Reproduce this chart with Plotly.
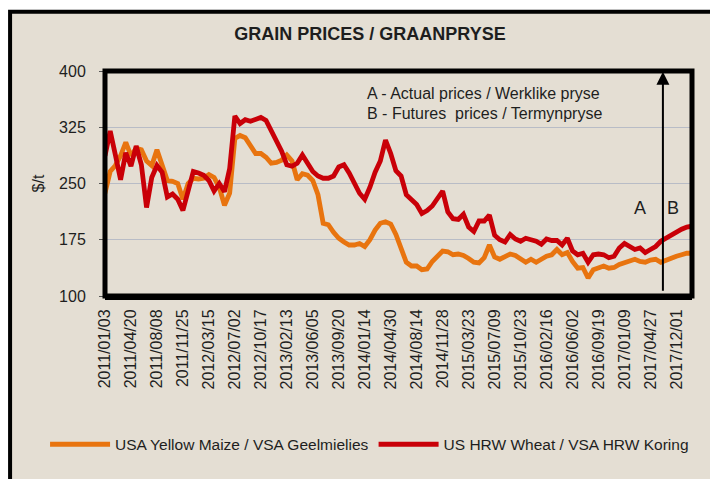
import plotly.graph_objects as go

# ---------------- data ----------------
date_labels = ["2011/01/03", "2011/04/20", "2011/08/08", "2011/11/25", "2012/03/15",
               "2012/07/02", "2012/10/17", "2013/02/13", "2013/06/05", "2013/09/20",
               "2014/01/14", "2014/04/30", "2014/08/14", "2014/11/28", "2015/03/23",
               "2015/07/09", "2015/10/23", "2016/02/16", "2016/06/02", "2016/09/19",
               "2017/01/09", "2017/04/27", "2017/12/01"]
points_per_label = 5  # observations between two consecutive date labels

maize = [237, 266, 274, 287, 305, 287, 297, 295, 280, 274,
         295, 276, 254, 253, 250, 229, 250, 257, 256, 257,
         262, 258, 245, 221, 237, 310, 314, 311, 299, 290,
         290, 285, 277, 278, 281, 288, 280, 255, 263, 261,
         254, 235, 197, 195, 185, 177, 172, 168, 168, 170,
         166, 175, 188, 197, 199, 196, 182, 164, 145, 140,
         140, 135, 136, 146, 153, 160, 159, 155, 156, 154,
         150, 145, 144, 151, 168, 152, 149, 152, 156, 154,
         150, 145, 149, 145, 149, 153, 155, 162, 155, 158,
         146, 137, 138, 124, 135, 137, 140, 137, 138, 142,
         144, 147, 149, 146, 145, 148, 149, 145, 148, 151,
         153, 155, 157, 157]

wheat = [287, 320, 288, 255, 291, 273, 300, 275, 218, 258,
         274, 265, 232, 236, 229, 214, 240, 266, 264, 261,
         254, 240, 250, 239, 270, 340, 330, 335, 333, 335,
         338, 334, 320, 306, 293, 275, 273, 277, 288, 277,
         266, 260, 257, 257, 260, 272, 275, 264, 249, 237,
         229, 245, 265, 280, 308, 290, 267, 260, 235, 228,
         222, 210, 214, 220, 230, 240, 212, 203, 202, 209,
         192, 186, 200, 200, 208, 181, 175, 172, 182, 176,
         173, 177, 175, 173, 169, 176, 174, 174, 168, 177,
         160, 155, 157, 145, 155, 156, 155, 151, 153, 164,
         170, 166, 162, 164, 158, 162, 166, 173, 177, 182,
         185, 189, 192, 193]

y_ticks = [100, 175, 250, 325, 400]
series_names = ["USA Yellow Maize / VSA Geelmielies", "US HRW Wheat / VSA HRW Koring"]
title_text = "GRAIN PRICES / GRAANPRYSE"
note_lines = ["A - Actual prices / Werklike pryse", "B - Futures  prices / Termynpryse"]
split_position = 21.48  # boundary between actual and futures prices (in label units)

# ---------------- figure ----------------
FONT = "Liberation Sans, Arial, sans-serif"
TXT = "#1e1e1e"
BG = "#E4DED3"

x_maize = [i / points_per_label for i in range(len(maize))]
x_wheat = [i / points_per_label for i in range(len(wheat))]

fig = go.Figure()
fig.add_trace(go.Scatter(x=x_maize, y=maize, mode="lines", name=series_names[0],
                         line=dict(color="#E8740F", width=4.8)))
fig.add_trace(go.Scatter(x=x_wheat, y=wheat, mode="lines", name=series_names[1],
                         line=dict(color="#C90008", width=4.8)))

# the page body has an 8px margin; size the figure so it fills the window
OFF = 8
W, H = 718 - OFF, 479 - OFF
L = 105 - OFF
T = 70.5 - OFF
plot_bottom = 296 - OFF
plot_right = 692.5 - OFF
R = W - plot_right
B = H - plot_bottom
pw = W - L - R
ph = H - T - B


def px2paper_x(px):
    return (px - OFF - L) / pw


def px2paper_y(py):
    return (H - B - (py - OFF)) / ph


shapes = [
    # outer beige panel with black frame (cropped on the right/bottom)
    dict(type="rect", xref="paper", yref="paper",
         x0=px2paper_x(10), x1=px2paper_x(740), y0=px2paper_y(500), y1=px2paper_y(11),
         line=dict(color="black", width=4), fillcolor=BG, layer="below"),
    # plot area frame
    dict(type="rect", xref="paper", yref="paper", x0=0, x1=1, y0=0, y1=1,
         line=dict(color="black", width=5), layer="above"),
    dict(type="line", xref="paper", yref="paper", x0=0, x1=1,
         y0=px2paper_y(298.5), y1=px2paper_y(298.5),
         line=dict(color="black", width=3), layer="above"),
]

annotations = [
    dict(x=split_position, y=399, xref="x", yref="y", ax=split_position, ay=105,
         axref="x", ayref="y", showarrow=True, arrowhead=2, arrowsize=1.3,
         arrowwidth=2, arrowcolor="black", text=""),
    dict(x=px2paper_x(365), y=px2paper_y(93), xref="paper", yref="paper",
         xanchor="left", yanchor="middle", showarrow=False, text=note_lines[0],
         font=dict(size=16, color=TXT, family=FONT)),
    dict(x=px2paper_x(365), y=px2paper_y(113), xref="paper", yref="paper",
         xanchor="left", yanchor="middle", showarrow=False, text=note_lines[1],
         font=dict(size=16, color=TXT, family=FONT)),
    dict(x=20.6, y=217, xref="x", yref="y", showarrow=False, text="A",
         font=dict(size=18, color=TXT, family=FONT)),
    dict(x=21.85, y=217, xref="x", yref="y", showarrow=False, text="B",
         font=dict(size=18, color=TXT, family=FONT)),
]

fig.update_layout(
    width=W, height=H,
    margin=dict(l=L, r=R, t=T, b=B, autoexpand=False),
    paper_bgcolor="white",
    plot_bgcolor="rgba(0,0,0,0)",
    font=dict(family=FONT, color=TXT, size=16),
    title=dict(text="<b>" + title_text + "</b>", x=(370 - OFF) / W, xanchor="center",
               y=1 - (34 - OFF) / H, yanchor="middle",
               font=dict(size=18, color=TXT, family=FONT)),
    showlegend=True,
    legend=dict(orientation="h", xref="paper", yref="paper",
                x=px2paper_x(45), xanchor="left", y=px2paper_y(445), yanchor="middle",
                bgcolor="rgba(0,0,0,0)", font=dict(size=15.5, color=TXT, family=FONT),
                itemwidth=60, traceorder="normal"),
    shapes=shapes,
    annotations=annotations,
)

fig.update_xaxes(range=[0, 22.6], tickmode="array",
                 tickvals=list(range(len(date_labels))), ticktext=date_labels,
                 tickangle=-90, ticks="outside", ticklen=6, tickcolor="rgba(0,0,0,0)",
                 showgrid=False, zeroline=False, showline=False,
                 tickfont=dict(size=16, color=TXT, family=FONT))
fig.update_yaxes(range=[100, 400], tickmode="array", tickvals=y_ticks,
                 ticks="outside", ticklen=5, tickcolor="#555555",
                 showgrid=True, gridcolor="#B8BCC6", gridwidth=1, zeroline=False,
                 showline=False, ticklabelstandoff=10,
                 title=dict(text="$/t", standoff=10, font=dict(size=16, color=TXT, family=FONT)),
                 tickfont=dict(size=16, color=TXT, family=FONT))

fig.write_html("out.html")
